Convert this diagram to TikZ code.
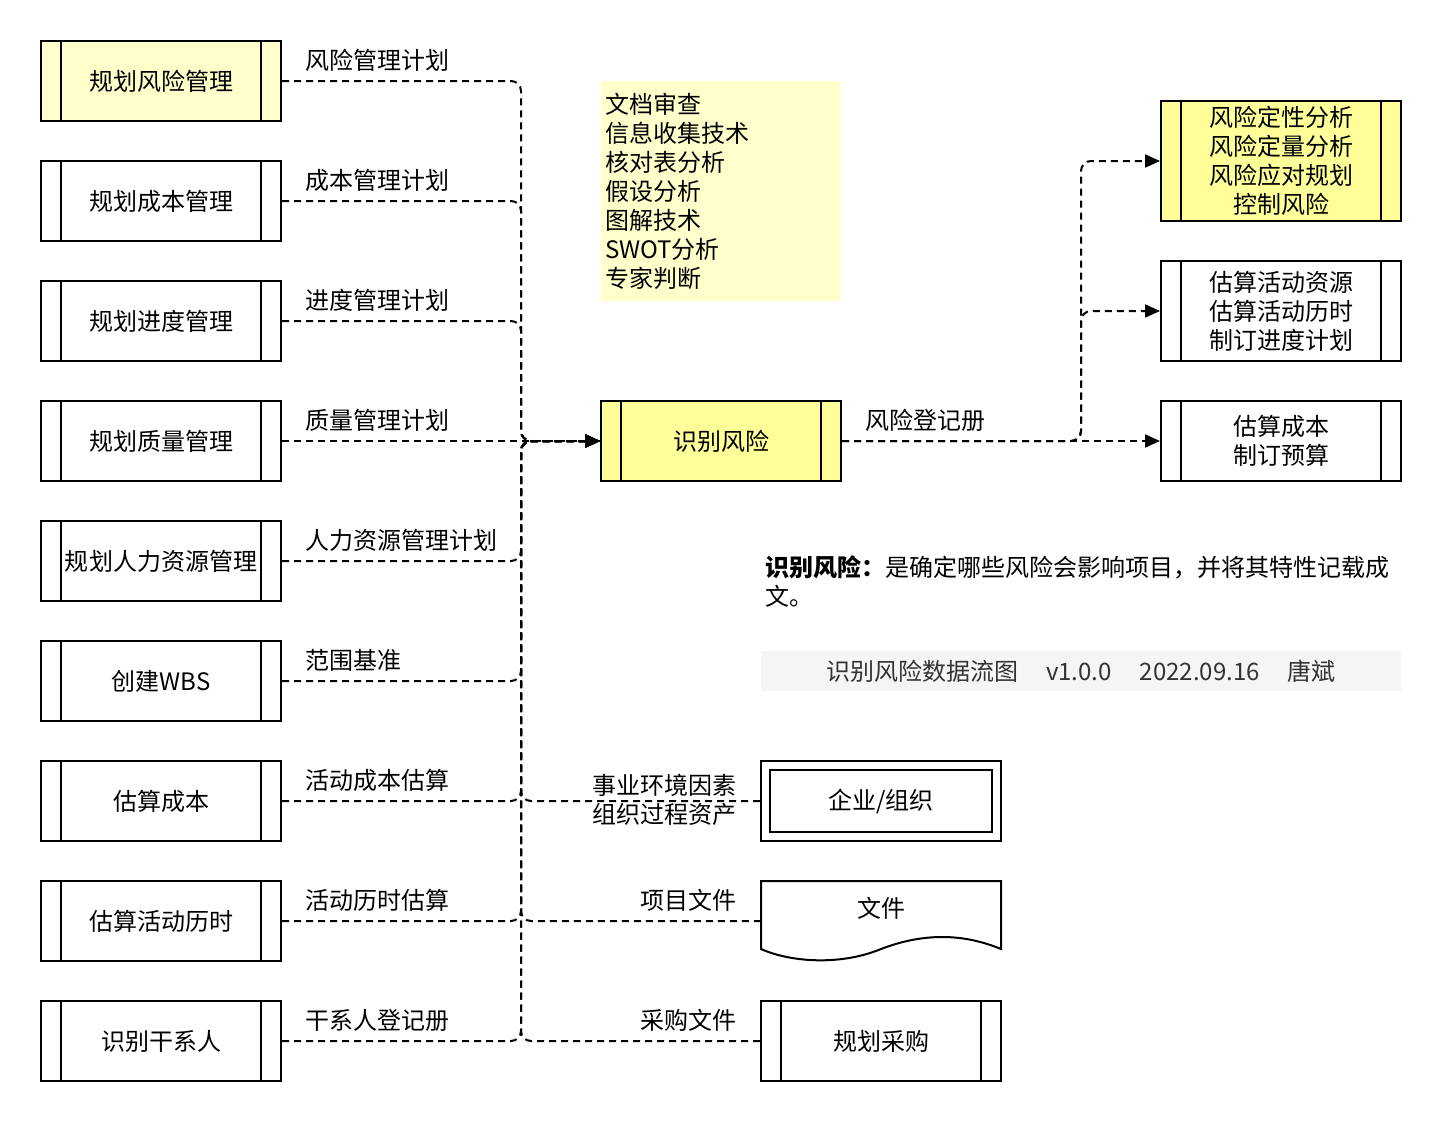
\documentclass[tikz,border=0pt]{standalone}
\usepackage{fontspec}
\setmainfont{Noto Sans CJK SC}
\usetikzlibrary{arrows.meta}
\definecolor{lightyel}{HTML}{FFFFCC}
\definecolor{yel}{HTML}{FFFF99}
\definecolor{footgray}{HTML}{F5F5F5}
\definecolor{foottext}{HTML}{333333}
\tikzset{
  every node/.style={font=\fontsize{24bp}{29bp}\selectfont, text=black, inner sep=0pt},
  procbox/.style={draw, line width=2bp, minimum width=240bp, minimum height=80bp, align=center,
    path picture={\draw[line width=2bp]
      ([xshift=20bp]path picture bounding box.north west) -- ([xshift=20bp]path picture bounding box.south west)
      ([xshift=-20bp]path picture bounding box.north east) -- ([xshift=-20bp]path picture bounding box.south east);}},
  plainbox/.style={draw, line width=2bp, minimum width=240bp, minimum height=80bp, align=center},
  flow/.style={draw, line width=2bp, dash pattern=on 7bp off 5bp, rounded corners=10bp,
    -{Triangle[length=15bp,width=13bp]}},
  lbl/.style={anchor=west},
  rlbl/.style={anchor=east, align=right}
}
\begin{document}
\begin{tikzpicture}[x=1bp,y=-1bp]
\useasboundingbox[fill=white] (0,0) rectangle (1442,1122);

% trunk coordinates
\coordinate (trunk) at (521,441);
\coordinate (rtrunk) at (1081,441);

% left process boxes
\node[procbox, fill=lightyel] (L1) at (161,81) {规划风险管理};
\node[procbox] (L2) at (161,201) {规划成本管理};
\node[procbox] (L3) at (161,321) {规划进度管理};
\node[procbox] (L4) at (161,441) {规划质量管理};
\node[procbox] (L5) at (161,561) {规划人力资源管理};
\node[procbox] (L6) at (161,681) {创建WBS};
\node[procbox] (L7) at (161,801) {估算成本};
\node[procbox] (L8) at (161,921) {估算活动历时};
\node[procbox] (L9) at (161,1041) {识别干系人};

% central process
\node[procbox, fill=yel] (rid) at (721,441) {识别风险};

% tools note
\node[fill=lightyel, minimum width=240bp, minimum height=220bp, text width=232bp, inner xsep=4bp, align=left] (tools) at (721,191)
  {文档审查\\信息收集技术\\核对表分析\\假设分析\\图解技术\\SWOT分析\\专家判断};

% right process boxes
\node[procbox, fill=yel, minimum height=120bp] (R1) at (1281,161) {风险定性分析\\风险定量分析\\风险应对规划\\控制风险};
\node[procbox, minimum height=100bp] (R2) at (1281,311) {估算活动资源\\估算活动历时\\制订进度计划};
\node[procbox] (R3) at (1281,441) {估算成本\\制订预算};

% external entity
\node[plainbox] (ent) at (881,801) {企业/组织};
\draw[line width=2bp] ([xshift=10bp,yshift=-10bp]ent.north west) rectangle ([xshift=-10bp,yshift=10bp]ent.south east);

% document
\draw[line width=2bp, fill=white] (761,949) -- (761,881) -- (1001,881) -- (1001,949)
  .. controls (960,932) and (920,934) .. (881,949)
  .. controls (840,966) and (790,962) .. (761,949) -- cycle;
\node[minimum width=240bp, minimum height=80bp] (doc) at (881,921) {};
\node (doctext) at (881,908) {文件};

% procurement
\node[procbox] (proc) at (881,1041) {规划采购};

% description and footer
\node[anchor=west, align=left] (desc) at (765,581)
  {\textbf{识别风险：}是确定哪些风险会影响项目，并将其特性记载成\\文。};
\node[fill=footgray, minimum width=640bp, minimum height=40bp, text=foottext] (foot) at (1081,671)
  {识别风险数据流图\hspace{28bp}v1.0.0\hspace{28bp}2022.09.16\hspace{28bp}唐斌};

% left flows
\draw[flow] (L1.east) -- (L1.east -| trunk) |- (rid.west);
\draw[flow] (L2.east) -- (L2.east -| trunk) |- (rid.west);
\draw[flow] (L3.east) -- (L3.east -| trunk) |- (rid.west);
\draw[flow] (L4.east) -- (rid.west);
\draw[flow] (L5.east) -- (L5.east -| trunk) |- (rid.west);
\draw[flow] (L6.east) -- (L6.east -| trunk) |- (rid.west);
\draw[flow] (L7.east) -- (L7.east -| trunk) |- (rid.west);
\draw[flow] (L8.east) -- (L8.east -| trunk) |- (rid.west);
\draw[flow] (L9.east) -- (L9.east -| trunk) |- (rid.west);

% bottom-right flows
\draw[flow] (ent.west) -- (ent.west -| trunk) |- (rid.west);
\draw[flow] (doc.west) -- (doc.west -| trunk) |- (rid.west);
\draw[flow] (proc.west) -- (proc.west -| trunk) |- (rid.west);

% outgoing flows
\draw[flow] (rid.east) -- (R3.west);
\draw[flow] (rid.east) -- (rtrunk) |- (R2.west);
\draw[flow] (rid.east) -- (rtrunk) |- (R1.west);

% flow labels
\node[lbl] (t1) at (305,60) {风险管理计划};
\node[lbl] (t2) at (305,180) {成本管理计划};
\node[lbl] (t3) at (305,300) {进度管理计划};
\node[lbl] (t4) at (305,420) {质量管理计划};
\node[lbl] (t5) at (305,540) {人力资源管理计划};
\node[lbl] (t6) at (305,660) {范围基准};
\node[lbl] (t7) at (305,780) {活动成本估算};
\node[lbl] (t8) at (305,900) {活动历时估算};
\node[lbl] (t9) at (305,1020) {干系人登记册};
\node[rlbl] (u1) at (737,800) {事业环境因素\\组织过程资产};
\node[rlbl] (u2) at (737,900) {项目文件};
\node[rlbl] (u3) at (737,1020) {采购文件};
\node[lbl] (v1) at (865,420) {风险登记册};
\end{tikzpicture}
\end{document}
